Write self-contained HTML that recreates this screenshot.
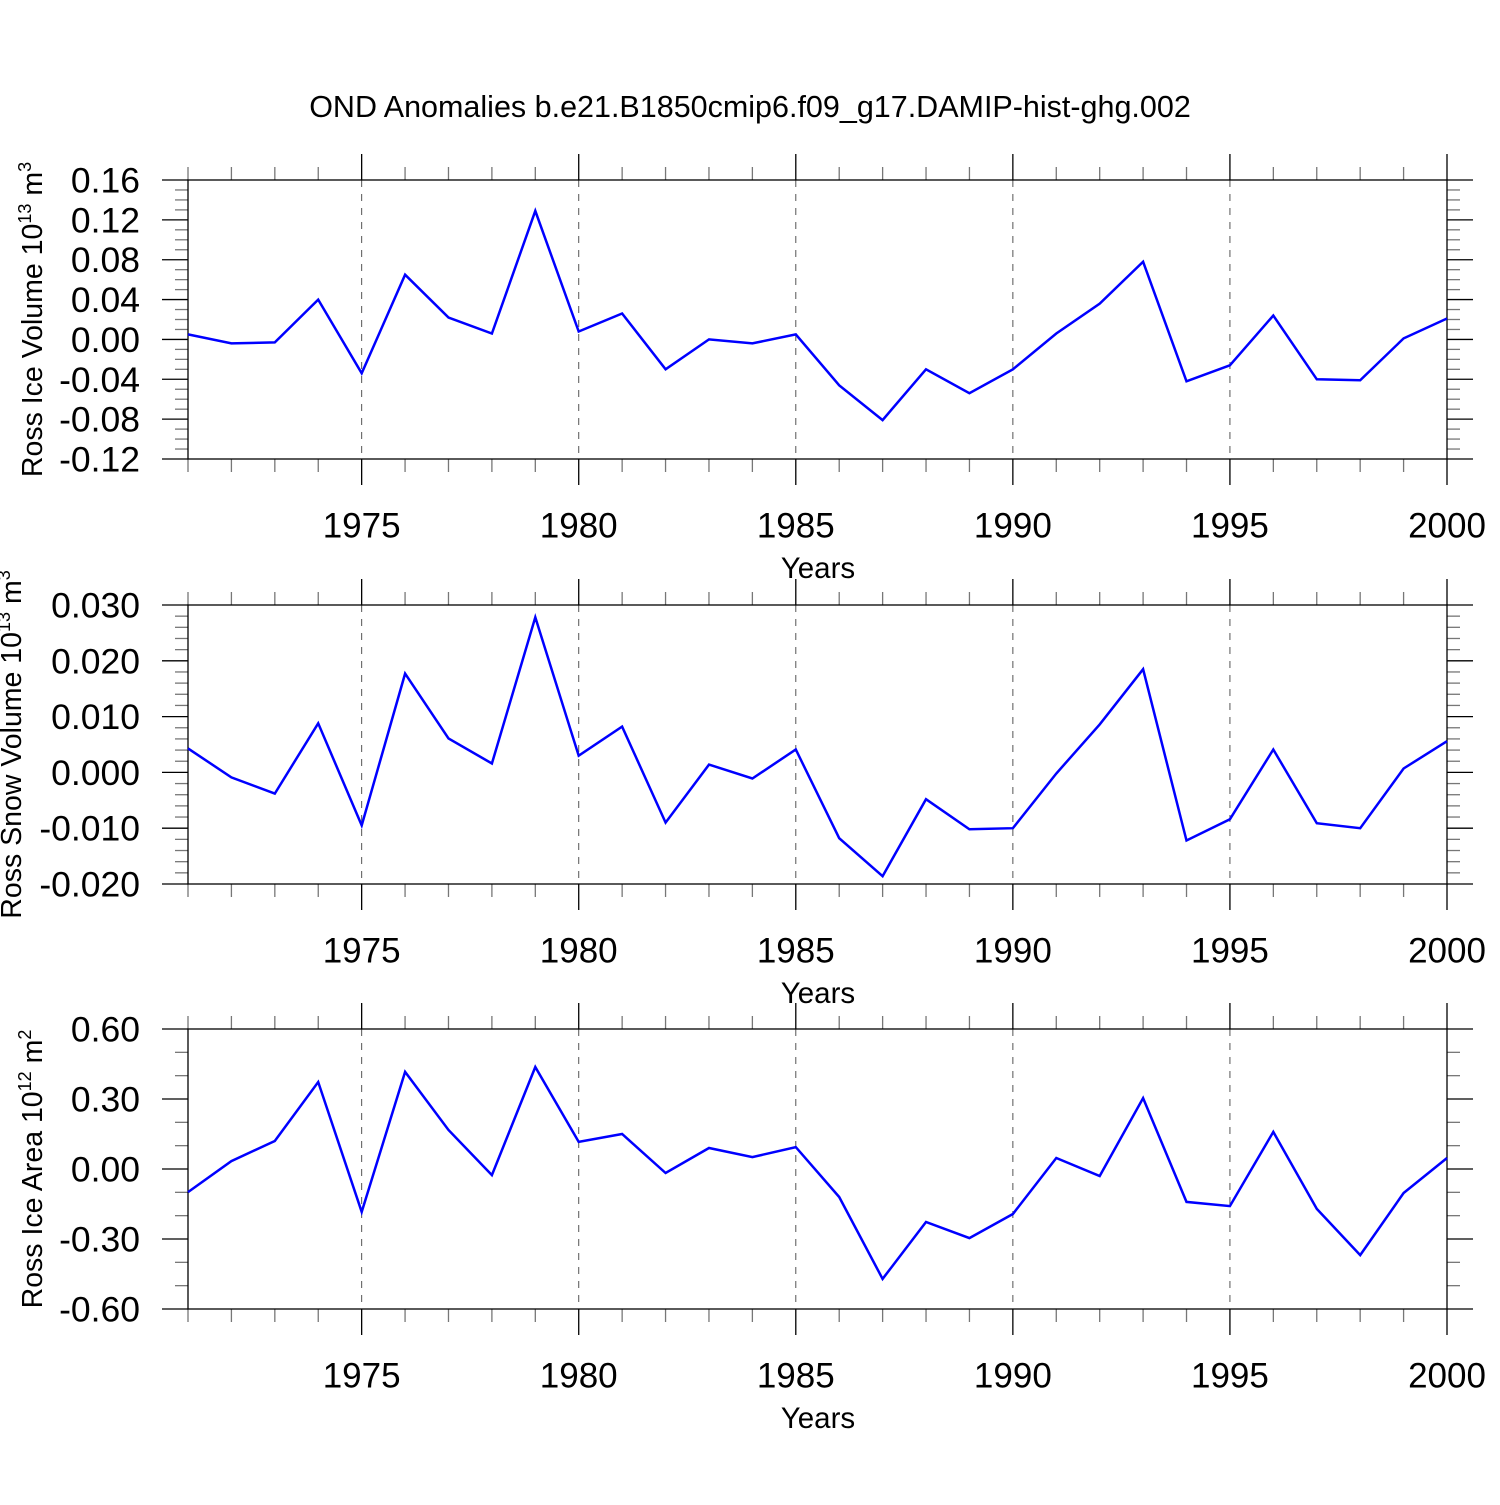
<!DOCTYPE html>
<html><head><meta charset="utf-8"><style>
html,body{margin:0;padding:0;background:#fff;}
text{font-family:"Liberation Sans",Helvetica,sans-serif;fill:#000;}
</style></head><body>
<svg id="chart" width="1500" height="1500" xmlns="http://www.w3.org/2000/svg">
<text x="750" y="117" font-size="30.5" text-anchor="middle">OND Anomalies b.e21.B1850cmip6.f09_g17.DAMIP-hist-ghg.002</text>
</svg>
<script>
const years = [1971,1972,1973,1974,1975,1976,1977,1978,1979,1980,1981,1982,1983,1984,1985,1986,1987,1988,1989,1990,1991,1992,1993,1994,1995,1996,1997,1998,1999,2000];
const iceVolume = [0.005,-0.004,-0.003,0.040,-0.034,0.065,0.022,0.006,0.129,0.008,0.026,-0.030,0.000,-0.004,0.005,-0.046,-0.081,-0.030,-0.054,-0.030,0.006,0.036,0.078,-0.042,-0.026,0.024,-0.040,-0.041,0.001,0.021];
const snowVolume = [0.0043,-0.0009,-0.0038,0.0088,-0.0095,0.0177,0.0061,0.0016,0.0278,0.0030,0.0082,-0.0090,0.0014,-0.0011,0.0041,-0.0118,-0.0186,-0.0048,-0.0102,-0.0100,-0.0002,0.0086,0.0185,-0.0122,-0.0084,0.0041,-0.0091,-0.0100,0.0007,0.0056];
const iceArea = [-0.099,0.034,0.12,0.373,-0.184,0.416,0.167,-0.026,0.437,0.116,0.15,-0.017,0.09,0.051,0.094,-0.12,-0.471,-0.227,-0.296,-0.193,0.047,-0.03,0.304,-0.141,-0.159,0.159,-0.171,-0.369,-0.103,0.047];
const xTickYears = [1975,1980,1985,1990,1995,2000];
const iceVolTicks = ["0.16","0.12","0.08","0.04","0.00","-0.04","-0.08","-0.12"];
const snowTicks = ["0.030","0.020","0.010","0.000","-0.010","-0.020"];
const areaTicks = ["0.60","0.30","0.00","-0.30","-0.60"];

const svg = document.getElementById('chart');
const NS = 'http://www.w3.org/2000/svg';
function mk(tag, attrs, parent){const e=document.createElementNS(NS,tag);for(const k in attrs)e.setAttribute(k,attrs[k]);(parent||svg).appendChild(e);return e;}
const X0=188, X1=1447, YR0=1971, YR1=2000;
const xs = y => X0 + (y-YR0)/(YR1-YR0)*(X1-X0);

const panels = [
 {name:'ice-volume', top:180, bot:459, ymin:-0.12, ymax:0.16, major:0.04, minorN:4, ticks:iceVolTicks, data:iceVolume, title:['Ross Ice Volume 10','13',' m','3'], tx:42},
 {name:'snow-volume', top:605, bot:884, ymin:-0.02, ymax:0.03, major:0.01, minorN:5, ticks:snowTicks, data:snowVolume, title:['Ross Snow Volume 10','13',' m','3'], tx:21},
 {name:'ice-area', top:1029, bot:1309, ymin:-0.6, ymax:0.6, major:0.3, minorN:3, ticks:areaTicks, data:iceArea, title:['Ross Ice Area 10','12',' m','2'], tx:42}
];

panels.forEach(p=>{
  const g = mk('g',{});
  
  
  const ys = v => p.bot - (v-p.ymin)/(p.ymax-p.ymin)*(p.bot-p.top);
  xTickYears.forEach(yr=>{
    if(yr===YR1) return;
    const l = mk('line',{x1:xs(yr),x2:xs(yr),y1:p.top,y2:p.bot,stroke:'#555','stroke-width':1,'stroke-dasharray':'7,7'},g);
    
    
  });
  for(let yr=YR0; yr<=YR1; yr++){
    const maj = xTickYears.includes(yr);
    const len = maj?26:13, col = maj?'#000':'#777';
    mk('line',{x1:xs(yr),x2:xs(yr),y1:p.top-len,y2:p.top,stroke:col,'stroke-width':1.3},g);
    mk('line',{x1:xs(yr),x2:xs(yr),y1:p.bot,y2:p.bot+len,stroke:col,'stroke-width':1.3},g);
  }
  const nMaj = Math.round((p.ymax-p.ymin)/p.major);
  for(let i=0;i<=nMaj*p.minorN;i++){
    const v = p.ymin + i*p.major/p.minorN;
    const maj = i%p.minorN===0;
    const len = maj?26:13, col = maj?'#000':'#777';
    mk('line',{x1:X0-len,x2:X0,y1:ys(v),y2:ys(v),stroke:col,'stroke-width':1.3},g);
    mk('line',{x1:X1,x2:X1+len,y1:ys(v),y2:ys(v),stroke:col,'stroke-width':1.3},g);
  }
  const fr = mk('rect',{x:X0,y:p.top,width:X1-X0,height:p.bot-p.top,fill:'none',stroke:'#000','stroke-width':1.3},g);
  
  
  p.ticks.forEach((t,i)=>{
    const v = p.ymax - i*p.major;
    const tx = mk('text',{x:140,y:ys(v)+12.5,'font-size':35.5,'text-anchor':'end'},g);
    tx.textContent = t;
    
    
  });
  xTickYears.forEach(yr=>{
    const tx = mk('text',{x:xs(yr),y:p.bot+78.5,'font-size':35,'text-anchor':'middle'},g);
    tx.textContent = yr;
    
    
  });
  const xt = mk('text',{x:818,y:p.bot+119,'font-size':29.5,'text-anchor':'middle'},g);
  xt.textContent = 'Years';
  
  
  const cy = (p.top+p.bot)/2;
  const yt = mk('text',{x:0,y:0,'font-size':28.5,'text-anchor':'middle',transform:`translate(${p.tx},${cy}) rotate(-90)`},g);
  
  
  const parts = p.title;
  const s1=document.createElementNS(NS,'tspan'); s1.textContent=parts[0]; yt.appendChild(s1);
  const s2=document.createElementNS(NS,'tspan'); s2.setAttribute('dy','-11'); s2.setAttribute('font-size','18'); s2.textContent=parts[1]; yt.appendChild(s2);
  const s3=document.createElementNS(NS,'tspan'); s3.setAttribute('dy','11'); s3.textContent=parts[2]; yt.appendChild(s3);
  const s4=document.createElementNS(NS,'tspan'); s4.setAttribute('dy','-11'); s4.setAttribute('font-size','18'); s4.textContent=parts[3]; yt.appendChild(s4);
  const pts = p.data.map((v,i)=>xs(years[i]).toFixed(1)+','+ys(v).toFixed(1)).join(' ');
  const pl = mk('polyline',{points:pts,fill:'none',stroke:'#0000ff','stroke-width':2.5,'stroke-linejoin':'miter'},g);
  
  
});
</script>
</body></html>
